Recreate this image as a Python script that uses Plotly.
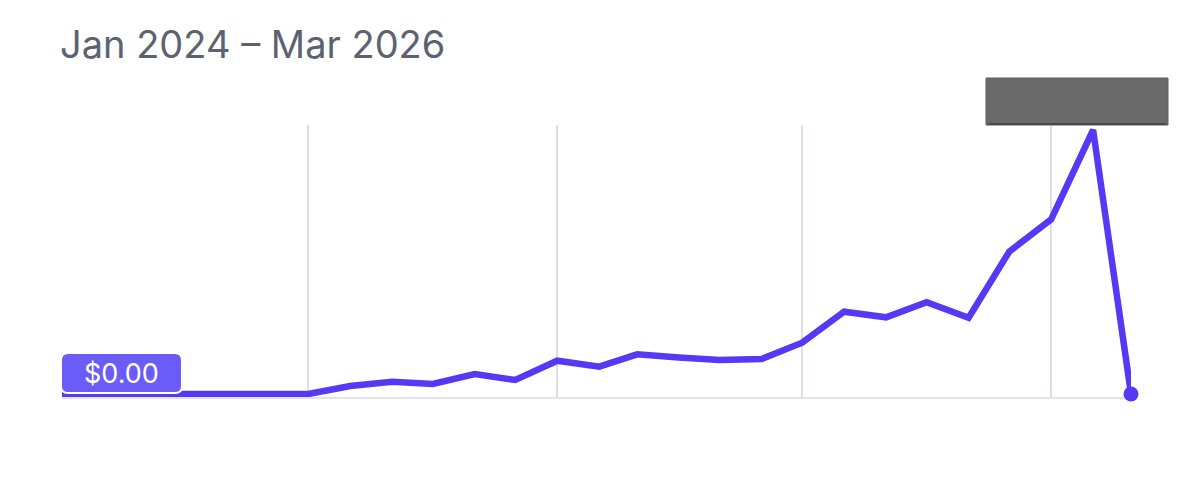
import plotly.graph_objects as go

months = ["2024-01-01", "2024-02-01", "2024-03-01", "2024-04-01", "2024-05-01", "2024-06-01",
          "2024-07-01", "2024-08-01", "2024-09-01", "2024-10-01", "2024-11-01", "2024-12-01",
          "2025-01-01", "2025-02-01", "2025-03-01", "2025-04-01", "2025-05-01", "2025-06-01",
          "2025-07-01", "2025-08-01", "2025-09-01", "2025-10-01", "2025-11-01", "2025-12-01",
          "2026-01-01", "2026-02-01", "2026-03-01"]
values = [0, 0, 0, 0, 0, 0, 0, 8, 12.3, 10, 20, 14, 33.3, 27.3, 39.7, 36.5, 34, 35,
          51.3, 82.3, 76.7, 91.7, 76.3, 142.3, 174.7, 264, 0]
grid_dates = ["2024-01-01", "2024-07-01", "2025-01-01", "2025-07-01", "2026-01-01", "2026-03-01"]
title_text = "Jan 2024 – Mar 2026"
start_label = "$0.00"

OFF = 8  # page body margin
W, H = 1200, 481
L, T = 62 - OFF, 125 - OFF
R = W - (1131 - OFF)
B = H - (397 - OFF)
PW, PH = W - L - R, H - T - B


def px(x):
    return (x - OFF - L) / PW


def py(y):
    return (H - B - (y - OFF)) / PH


LINE = "#5539f5"

fig = go.Figure()
fig.add_trace(go.Scatter(x=months, y=values, mode="lines", cliponaxis=False,
                         line=dict(color=LINE, width=6.5), hoverinfo="skip"))
fig.add_trace(go.Scatter(x=[months[-1]], y=[values[-1]], mode="markers", cliponaxis=False,
                         marker=dict(color=LINE, size=15, line=dict(width=0)),
                         hoverinfo="skip"))


def rounded_rect(x0, y0, x1, y1, r):
    rx, ry = r / PW, r / PH
    X0, X1 = px(x0), px(x1)
    Y0, Y1 = py(y1), py(y0)
    return (f"M {X0+rx} {Y0} L {X1-rx} {Y0} Q {X1} {Y0} {X1} {Y0+ry} "
            f"L {X1} {Y1-ry} Q {X1} {Y1} {X1-rx} {Y1} L {X0+rx} {Y1} "
            f"Q {X0} {Y1} {X0} {Y1-ry} L {X0} {Y0+ry} Q {X0} {Y0} {X0+rx} {Y0} Z")


shapes = [
    dict(type="path", xref="paper", yref="paper", path=rounded_rect(61, 353, 182, 393, 7),
         fillcolor="#6a5cf7", line=dict(color="white", width=2), layer="above"),
    dict(type="rect", xref="paper", yref="paper", x0=px(986), x1=px(1168), y0=py(125), y1=py(78),
         fillcolor="#6a6a6a", line=dict(color="#5e5e5e", width=1), layer="above"),
    dict(type="line", xref="paper", yref="paper", x0=px(988), x1=px(1166), y0=py(124), y1=py(124),
         line=dict(color="#4a4a4a", width=2), layer="above"),
]

fig.update_layout(
    width=W, height=H,
    margin=dict(l=L, r=R, t=T, b=B),
    paper_bgcolor="white", plot_bgcolor="white",
    showlegend=False,
    shapes=shapes,
    annotations=[
        dict(text=title_text, xref="paper", yref="paper", x=px(58), y=py(44),
             xanchor="left", yanchor="middle", showarrow=False,
             font=dict(family="Inter, Roboto, sans-serif", size=38, color="#5c6272")),
        dict(text=start_label, xref="paper", yref="paper", x=px(121.5), y=py(373),
             xanchor="center", yanchor="middle", showarrow=False,
             font=dict(family="Inter, Roboto, sans-serif", size=27, color="white")),
    ],
    xaxis=dict(range=[months[0], months[-1]], tickvals=grid_dates, showticklabels=False,
               showgrid=True, gridcolor="#dcdfe7", gridwidth=2, zeroline=False,
               showline=True, linecolor="#e3e4ea", linewidth=2, ticks="", layer="below traces"),
    yaxis=dict(range=[-3, 269], showticklabels=False, showgrid=False, zeroline=False,
               showline=False, ticks=""),
)

fig.write_html("out.html")
